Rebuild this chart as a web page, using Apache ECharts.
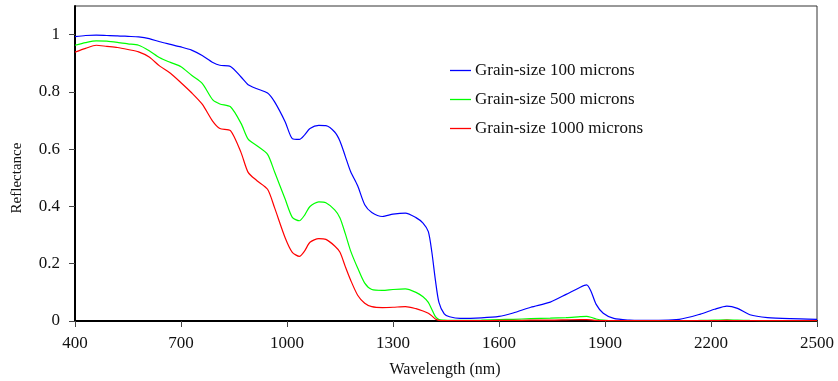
<!DOCTYPE html>
<html>
<head>
<meta charset="utf-8">
<script src="https://cdn.jsdelivr.net/npm/echarts@6/dist/echarts.min.js"></script>
<style>
html,body{margin:0;padding:0;background:#fff;}
#chart{width:838px;height:381px;}
</style>
</head>
<body>
<div id="chart"></div>
<script>
const wavelengths = [400,430,460,490,520,550,580,610,640,670,700,730,760,790,810,840,870,890,915,945,965,995,1015,1035,1050,1065,1090,1110,1135,1150,1165,1180,1200,1220,1240,1270,1300,1335,1365,1385,1400,1410,1420,1430,
  1445,1460,1490,1550,1600,1640,1690,1745,1790,1830,1848,1860,1875,1895,1925,1970,2000,2110,2170,2210,2245,2275,2310,2360,2425,2500];

const grain100 = [0.993,0.997,0.998,0.997,0.996,0.994,0.992,0.986,0.975,0.966,0.957,0.946,0.927,0.903,0.893,0.889,0.852,0.825,0.811,0.796,0.765,0.695,0.637,0.634,0.650,0.672,0.683,0.682,0.660,0.628,0.575,0.522,0.472,0.406,0.379,0.365,0.373,0.377,0.361,0.342,0.312,0.240,0.143,0.065,
  0.025,0.015,0.009,0.011,0.016,0.028,0.048,0.066,0.093,0.118,0.126,0.105,0.058,0.027,0.009,0.003,0.002,0.006,0.024,0.041,0.052,0.044,0.022,0.012,0.008,0.006];

const grain500 = [0.963,0.972,0.978,0.977,0.973,0.968,0.963,0.944,0.919,0.903,0.888,0.858,0.830,0.772,0.758,0.748,0.690,0.635,0.612,0.582,0.520,0.425,0.362,0.350,0.370,0.400,0.416,0.413,0.388,0.360,0.305,0.245,0.185,0.132,0.110,0.107,0.110,0.112,0.100,0.085,0.065,0.040,0.015,0.005,
  0.003,0.002,0.002,0.003,0.005,0.006,0.008,0.010,0.012,0.015,0.016,0.013,0.007,0.003,0.001,0.001,0.001,0.001,0.002,0.003,0.004,0.003,0.002,0.001,0.001,0.001];

const grain1000 = [0.939,0.952,0.963,0.959,0.955,0.948,0.940,0.922,0.890,0.865,0.832,0.797,0.757,0.697,0.672,0.665,0.588,0.519,0.490,0.460,0.395,0.290,0.240,0.226,0.245,0.275,0.288,0.285,0.262,0.240,0.190,0.143,0.090,0.062,0.050,0.047,0.048,0.050,0.043,0.035,0.027,0.018,0.007,0.002,
  0.001,0.001,0.001,0.001,0.002,0.002,0.003,0.003,0.004,0.005,0.005,0.004,0.002,0.001,0.001,0.001,0.001,0.001,0.001,0.001,0.002,0.001,0.001,0.001,0.001,0.001];

const seriesNames = ['Grain-size 100 microns','Grain-size 500 microns','Grain-size 1000 microns'];
const xTicks = [400,700,1000,1300,1600,1900,2200,2500];
const yTicks = [0,0.2,0.4,0.6,0.8,1];

const font = '"Liberation Serif","Times New Roman",serif';
const chart = echarts.init(document.getElementById('chart'), null, {renderer:'canvas'});

function pairs(vals){ return wavelengths.map((w,i)=>[w, vals[i]]); }
const colors = ['#0000FF','#00FF00','#FF0000'];
const allVals = [grain100, grain500, grain1000];

chart.setOption({
  animation:false,
  backgroundColor:'#fff',
  grid:{left:75,right:21,top:6,bottom:60,show:true,borderColor:'#333',borderWidth:1,backgroundColor:'transparent'},
  legend:{
    orient:'vertical', left:450, top:62, padding:0, icon:'rect', itemWidth:21, itemHeight:1.3, itemGap:12,
    textStyle:{fontFamily:font,fontSize:17,color:'#111',padding:[0,0,0,-1]},
    data:seriesNames
  },
  xAxis:{
    type:'value', min:400, max:2500,
    axisLine:{show:true,onZero:false,lineStyle:{color:'#000',width:2}},
    axisTick:{show:true,length:6,lineStyle:{color:'#444',width:1},customValues:xTicks},
    axisLabel:{fontFamily:font,fontSize:17,color:'#111',margin:14,customValues:xTicks,formatter:v=>String(v)},
    splitLine:{show:false}
  },
  yAxis:{
    type:'value', min:0, max:1.1,
    axisLine:{show:true,lineStyle:{color:'#000',width:2}},
    axisTick:{show:true,length:6,lineStyle:{color:'#444',width:1},customValues:yTicks},
    axisLabel:{fontFamily:font,fontSize:17,color:'#111',margin:15,customValues:yTicks,formatter:v=>String(v)},
    splitLine:{show:false}
  },
  graphic:[
    {type:'text', x:445, y:370, style:{text:'Wavelength (nm)', font:'16px '+font, fill:'#111', textAlign:'center', textVerticalAlign:'middle'}},
    {type:'text', x:17, y:178, rotation:Math.PI/2, style:{text:'Reflectance', font:'15px '+font, fill:'#111', textAlign:'center', textVerticalAlign:'middle'}}
  ],
  series: seriesNames.map((n,i)=>({
    name:n, type:'line', data:pairs(allVals[i]), symbol:'none', smooth:0.25,
    lineStyle:{color:colors[i],width:1.2}, itemStyle:{color:colors[i]}
  }))
});
</script>
</body>
</html>
